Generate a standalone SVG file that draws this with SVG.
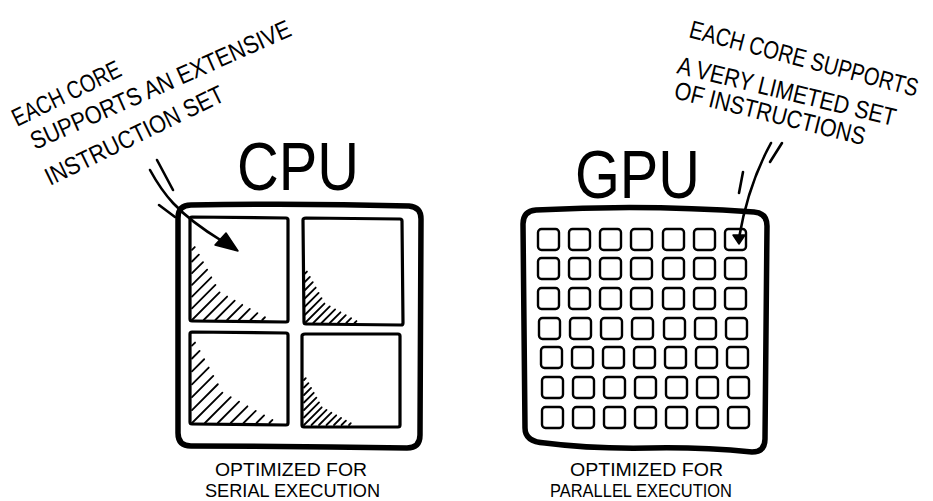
<svg xmlns="http://www.w3.org/2000/svg" xmlns:xlink="http://www.w3.org/1999/xlink" width="933" height="501" viewBox="0 0 933 501">
<style>
.frame{fill:none;stroke:#000;stroke-width:5.5;stroke-linejoin:round;stroke-linecap:round}
.core{fill:none;stroke:#000;stroke-width:3.2;stroke-linejoin:round}
.gcore{fill:none;stroke:#000;stroke-width:2.4}
.hatch line{stroke:#000;stroke-width:1.8;vector-effect:non-scaling-stroke;stroke-linecap:round}
.ink{fill:none;stroke:#000;stroke-width:2.6;stroke-linecap:round}
text{font-family:"Liberation Sans",Arial,sans-serif;fill:#000}
.title{font-size:68px}
.note{font-size:25px}
.lbl{font-size:18px}
</style>
<defs>
<rect id="gc" class="gcore" width="21" height="21" rx="3.5"/>
<g id="hatch" class="hatch">
<line x1="0" y1="-90" x2="3.54" y2="-93.54"/>
<line x1="0" y1="-75" x2="8.84" y2="-83.84"/>
<line x1="0" y1="-60" x2="14.14" y2="-74.14"/>
<line x1="0" y1="-45" x2="19.45" y2="-64.45"/>
<line x1="0" y1="-30" x2="24.75" y2="-54.75"/>
<line x1="0" y1="-15" x2="30.05" y2="-45.05"/>
<line x1="0" y1="0" x2="35.36" y2="-35.36"/>
<line x1="15" y1="0" x2="45.05" y2="-30.05"/>
<line x1="30" y1="0" x2="54.75" y2="-24.75"/>
<line x1="45" y1="0" x2="64.45" y2="-19.45"/>
<line x1="60" y1="0" x2="74.14" y2="-14.14"/>
<line x1="75" y1="0" x2="83.84" y2="-8.84"/>
<line x1="90" y1="0" x2="93.54" y2="-3.54"/>
</g>
</defs>
<rect width="933" height="501" fill="#fff"/>

<g id="note-cpu">
<text class="note" transform="translate(17,127) rotate(-26) scale(0.794,1)">EACH CORE</text>
<text class="note" transform="translate(35,150) rotate(-24) scale(0.87,1)">SUPPORTS AN EXTENSIVE</text>
<text class="note" transform="translate(50,186) rotate(-26) scale(0.866,1)">INSTRUCTION SET</text>
</g>

<g id="note-gpu">
<text class="note" transform="translate(688,37) rotate(14.7) scale(0.805,1)">EACH CORE SUPPORTS</text>
<text class="note" transform="translate(676,73) rotate(13.7) scale(0.861,1)">A VERY LIMETED SET</text>
<text class="note" transform="translate(673,98) rotate(13.9) scale(0.855,1)">OF INSTRUCTIONS</text>
</g>

<g id="cpu">
<text class="title" x="237" y="190" textLength="122" lengthAdjust="spacingAndGlyphs">CPU</text>
<path class="frame" d="M191,205 Q300,203 409,206 Q421,207 421,219 L420,435 Q420,448 407,448 Q300,446 191,446 Q178,446 178,433 L178,218 Q178,205 191,205 Z"/>
<path class="core" d="M192,217 L286,218 Q288,218 288,220 L288,320 Q288,322 286,322 L192,321 Q190,321 190,319 L190,219 Q190,217 192,217 Z"/>
<path class="core" d="M306,218 L400,219 Q402,219 402,221 L403,323 Q403,325 401,325 L306,324 Q304,324 304,322 L303,220 Q303,218 306,218 Z"/>
<path class="core" d="M192,332 L286,333 Q288,333 288,335 L288,423 Q288,425 286,425 L192,424 Q190,424 190,422 L190,334 Q190,332 192,332 Z"/>
<path class="core" d="M305,334 L398,334 Q400,334 400,336 L400,425 Q400,427 398,427 L304,427 Q302,427 302,425 L302,336 Q302,334 305,334 Z"/>
<use xlink:href="#hatch" href="#hatch" transform="translate(192,320) scale(0.78)"/>
<use xlink:href="#hatch" href="#hatch" transform="translate(305,323) scale(0.55)"/>
<use xlink:href="#hatch" href="#hatch" transform="translate(192,423) scale(0.86)"/>
<use xlink:href="#hatch" href="#hatch" transform="translate(304,425) scale(0.5)"/>
</g>

<g id="gpu">
<text class="title" x="575" y="198" textLength="125" lengthAdjust="spacingAndGlyphs">GPU</text>
<path class="frame" d="M536,210 Q645,204 754,212 Q767,213 767,226 L765,439 Q765,452 752,452 Q700,447 650,448 Q590,449 545,443 Q525,442 525,428 L523,224 Q523,211 536,210 Z"/>
<use xlink:href="#gc" href="#gc" x="538" y="229"/><use xlink:href="#gc" href="#gc" x="569" y="229"/><use xlink:href="#gc" href="#gc" x="600" y="229"/><use xlink:href="#gc" href="#gc" x="631" y="229"/><use xlink:href="#gc" href="#gc" x="663" y="229"/><use xlink:href="#gc" href="#gc" x="694" y="229"/><use xlink:href="#gc" href="#gc" x="725" y="229"/>
<use xlink:href="#gc" href="#gc" x="538" y="258"/><use xlink:href="#gc" href="#gc" x="569" y="258"/><use xlink:href="#gc" href="#gc" x="600" y="258"/><use xlink:href="#gc" href="#gc" x="631" y="258"/><use xlink:href="#gc" href="#gc" x="663" y="258"/><use xlink:href="#gc" href="#gc" x="694" y="258"/><use xlink:href="#gc" href="#gc" x="725" y="258"/>
<use xlink:href="#gc" href="#gc" x="538" y="288"/><use xlink:href="#gc" href="#gc" x="569" y="288"/><use xlink:href="#gc" href="#gc" x="600" y="288"/><use xlink:href="#gc" href="#gc" x="631" y="288"/><use xlink:href="#gc" href="#gc" x="663" y="288"/><use xlink:href="#gc" href="#gc" x="694" y="288"/><use xlink:href="#gc" href="#gc" x="725" y="288"/>
<use xlink:href="#gc" href="#gc" x="539" y="318"/><use xlink:href="#gc" href="#gc" x="570" y="318"/><use xlink:href="#gc" href="#gc" x="601" y="318"/><use xlink:href="#gc" href="#gc" x="632" y="318"/><use xlink:href="#gc" href="#gc" x="664" y="318"/><use xlink:href="#gc" href="#gc" x="695" y="318"/><use xlink:href="#gc" href="#gc" x="726" y="318"/>
<use xlink:href="#gc" href="#gc" x="541" y="347"/><use xlink:href="#gc" href="#gc" x="572" y="347"/><use xlink:href="#gc" href="#gc" x="603" y="347"/><use xlink:href="#gc" href="#gc" x="634" y="347"/><use xlink:href="#gc" href="#gc" x="665" y="347"/><use xlink:href="#gc" href="#gc" x="696" y="347"/><use xlink:href="#gc" href="#gc" x="727" y="347"/>
<use xlink:href="#gc" href="#gc" x="542" y="377"/><use xlink:href="#gc" href="#gc" x="573" y="377"/><use xlink:href="#gc" href="#gc" x="604" y="377"/><use xlink:href="#gc" href="#gc" x="635" y="377"/><use xlink:href="#gc" href="#gc" x="666" y="377"/><use xlink:href="#gc" href="#gc" x="697" y="377"/><use xlink:href="#gc" href="#gc" x="728" y="377"/>
<use xlink:href="#gc" href="#gc" x="542" y="407"/><use xlink:href="#gc" href="#gc" x="573" y="407"/><use xlink:href="#gc" href="#gc" x="604" y="407"/><use xlink:href="#gc" href="#gc" x="635" y="407"/><use xlink:href="#gc" href="#gc" x="666" y="407"/><use xlink:href="#gc" href="#gc" x="697" y="407"/><use xlink:href="#gc" href="#gc" x="728" y="407"/>
</g>

<g id="cpu-label">
<text class="lbl" x="215" y="476" textLength="152" lengthAdjust="spacingAndGlyphs">OPTIMIZED FOR</text>
<text class="lbl" x="205" y="497" textLength="175" lengthAdjust="spacingAndGlyphs">SERIAL EXECUTION</text>
</g>
<g id="gpu-label">
<text class="lbl" x="570" y="476" textLength="153" lengthAdjust="spacingAndGlyphs">OPTIMIZED FOR</text>
<text class="lbl" x="550" y="497" textLength="182" lengthAdjust="spacingAndGlyphs">PARALLEL EXECUTION</text>
</g>

<g id="connectors">
<path class="ink" d="M157,160 L173,190"/>
<path class="ink" d="M159,205 L175,217"/>
<path class="ink" d="M150,170 C162,192 176,213 222,241"/>
<polygon points="215,245 226,233 238,251" fill="#000" stroke="#000" stroke-width="1.5" stroke-linejoin="round"/>
<path class="ink" d="M782,143 L770,162"/>
<path class="ink" d="M743,172 L739,193"/>
<path class="ink" d="M771,143 Q748,185 739,238"/>
<polygon points="733,235 745,235 739,244" fill="#000" stroke="#000" stroke-width="1.5" stroke-linejoin="round"/>
</g>
</svg>
